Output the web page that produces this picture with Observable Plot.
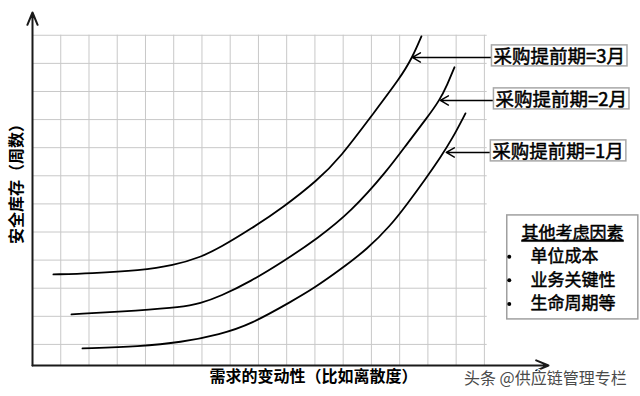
<!DOCTYPE html>
<html><head><meta charset="utf-8">
<script src="https://cdn.jsdelivr.net/npm/d3@7"></script>
<script src="https://cdn.jsdelivr.net/npm/@observablehq/plot@0.6"></script>
<style>
html,body{margin:0;padding:0;background:#fff;}
#chart svg{display:block;}
</style></head><body><div id="chart"></div>
<script>
// ---- data (grid units: one grid cell = 1) ----
const seriesNames = ["采购提前期=3月", "采购提前期=2月", "采购提前期=1月"];
const lead3X = [0.74, 2.05, 3.82, 4.99, 5.95, 6.65, 7.72, 8.88, 10.09, 10.90, 12.07, 13.03, 13.45, 13.77];
const lead3Y = [3.49, 3.53, 3.63, 3.81, 4.10, 4.45, 5.10, 5.88, 6.84, 7.65, 9.22, 10.50, 11.21, 11.96];
const lead2X = [1.38, 3.82, 5.24, 5.95, 6.65, 7.72, 8.88, 10.09, 11.26, 12.57, 13.27, 13.98, 14.41, 14.69, 14.94];
const lead2Y = [2.07, 2.21, 2.32, 2.46, 2.71, 3.24, 3.95, 4.77, 5.70, 7.19, 8.15, 9.08, 9.68, 10.25, 10.86];
const lead1X = [1.77, 3.82, 5.24, 6.65, 7.72, 9.24, 9.95, 10.90, 11.86, 12.67, 13.27, 13.91, 14.44, 14.87, 15.33];
const lead1Y = [0.86, 0.93, 1.07, 1.36, 1.71, 2.57, 2.99, 3.66, 4.40, 5.22, 6.00, 6.88, 7.65, 8.33, 9.22];
const arrowTipX = [13.45, 14.44, 14.65];
const arrowTipY = [11.21, 9.68, 7.83];
const labelX = [16.25, 16.32, 16.21];
const gridX = [1, 2, 3, 4, 5, 6, 7, 8, 9, 10, 11, 12, 13, 14, 15, 16];
const gridY = [1, 2, 3, 4, 5, 6, 7, 8, 9, 10, 11, 12];
const xTitle = "需求的变动性（比如离散度）";
const yTitle = "安全库存（周数）";
const legendTitle = "其他考虑因素";
const legendItems = ["单位成本", "业务关键性", "生命周期等"];
const watermark = "头条 @供应链管理专栏";

// ---- build tables ----
const curves = [[lead3X, lead3Y], [lead2X, lead2Y], [lead1X, lead1Y]];
const rows = [];
curves.forEach(([xs, ys], i) => xs.forEach((x, j) => rows.push({series: seriesNames[i], x, y: ys[j]})));
const labels = seriesNames.map((s, i) => ({text: s, tipX: arrowTipX[i], tipY: arrowTipY[i], lx: labelX[i]}));
const legendRows = legendItems.map((t, i) => ({text: t, y: 4.12 - i * 0.84}));

const font = '"Noto Sans CJK SC", "Noto Sans", sans-serif';
const plot = Plot.plot({
  width: 640, height: 396,
  marginLeft: 32, marginRight: 92, marginTop: 12, marginBottom: 31,
  x: {domain: [0, 18.27], axis: null},
  y: {domain: [0.25, 12.81], axis: null},
  style: {fontFamily: font, background: "#fff", color: "#000"},
  marks: [
    Plot.ruleY(gridY, {y: d => d, x1: 0, x2: 16.1, stroke: "#c8c8c8", strokeWidth: 1}),
    Plot.ruleX(gridX, {x: d => d, y1: 0.25, y2: 12, stroke: "#c8c8c8", strokeWidth: 1}),
    Plot.arrow([0], {x1: 0, y1: 0.25, x2: 0, y2: 12.81, stroke: "#1a1a1a", strokeWidth: 2, headLength: 10, headAngle: 45}),
    Plot.arrow([0], {x1: 0, y1: 0.25, x2: 18.27, y2: 0.25, stroke: "#1a1a1a", strokeWidth: 2, headLength: 10, headAngle: 45}),
    Plot.line(rows, {x: "x", y: "y", z: "series", curve: "basis", stroke: "#000", strokeWidth: 1.8}),
    Plot.arrow(labels, {x1: "lx", y1: "tipY", x2: "tipX", y2: "tipY", stroke: "#000", strokeWidth: 1.4, headLength: 10, headAngle: 60}),
    Plot.text(labels, {x: "lx", y: "tipY", text: "text", textAnchor: "start", dx: 2, fontSize: 18.5, fill: "#000", stroke: "#000", strokeWidth: 0.5}),
    Plot.rect([0], {x1: 16.81, x2: 21.45, y1: 1.89, y2: 5.59, fill: "#fff", stroke: "#a0a0a0", strokeWidth: 1.5}),
    Plot.text([legendTitle], {text: d => d, x: 19.12, y: 4.95, fontSize: 17, fill: "#000", stroke: "#000", strokeWidth: 0.5, textAnchor: "middle"}),
    Plot.dot(legendRows, {x: 16.88, y: "y", r: 2, fill: "#000", stroke: null}),
    Plot.text(legendRows, {x: 17.63, y: "y", text: "text", textAnchor: "start", fontSize: 17, fill: "#000", stroke: "#000", strokeWidth: 0.5}),
    Plot.text([xTitle], {text: d => d, x: 9.95, y: -0.17, fontSize: 16, fontWeight: "bold", fill: "#000"}),
    Plot.text([yTitle], {text: d => d, x: -0.57, y: 6.85, rotate: -90, fontSize: 16, fontWeight: "bold", fill: "#000"}),
    Plot.text([watermark], {text: d => d, x: 18.16, y: -0.21, fontSize: 16, fill: "#4a4a4a", stroke: "#fff", strokeWidth: 2, textAnchor: "middle"})
  ]
});
document.getElementById("chart").appendChild(plot);

// boxes around the lead-time labels, underline on legend title
const svgRect = plot.getBoundingClientRect();
const svg = d3.select(plot);
svg.selectAll("text").each(function () {
  const t = this.textContent;
  if (seriesNames.includes(t)) {
    const r = this.getBoundingClientRect();
    const cy = (r.top + r.bottom) / 2 - svgRect.top;
    svg.append("rect")
      .attr("x", r.left - svgRect.left - 2).attr("y", cy - 10.5)
      .attr("width", r.width + 4).attr("height", 21)
      .attr("fill", "none").attr("stroke", "#a8a8a8").attr("stroke-width", 1.5);
  } else if (t === legendTitle) {
    d3.select(this).style("text-decoration", "underline");
  }
});
</script>
</body></html>
